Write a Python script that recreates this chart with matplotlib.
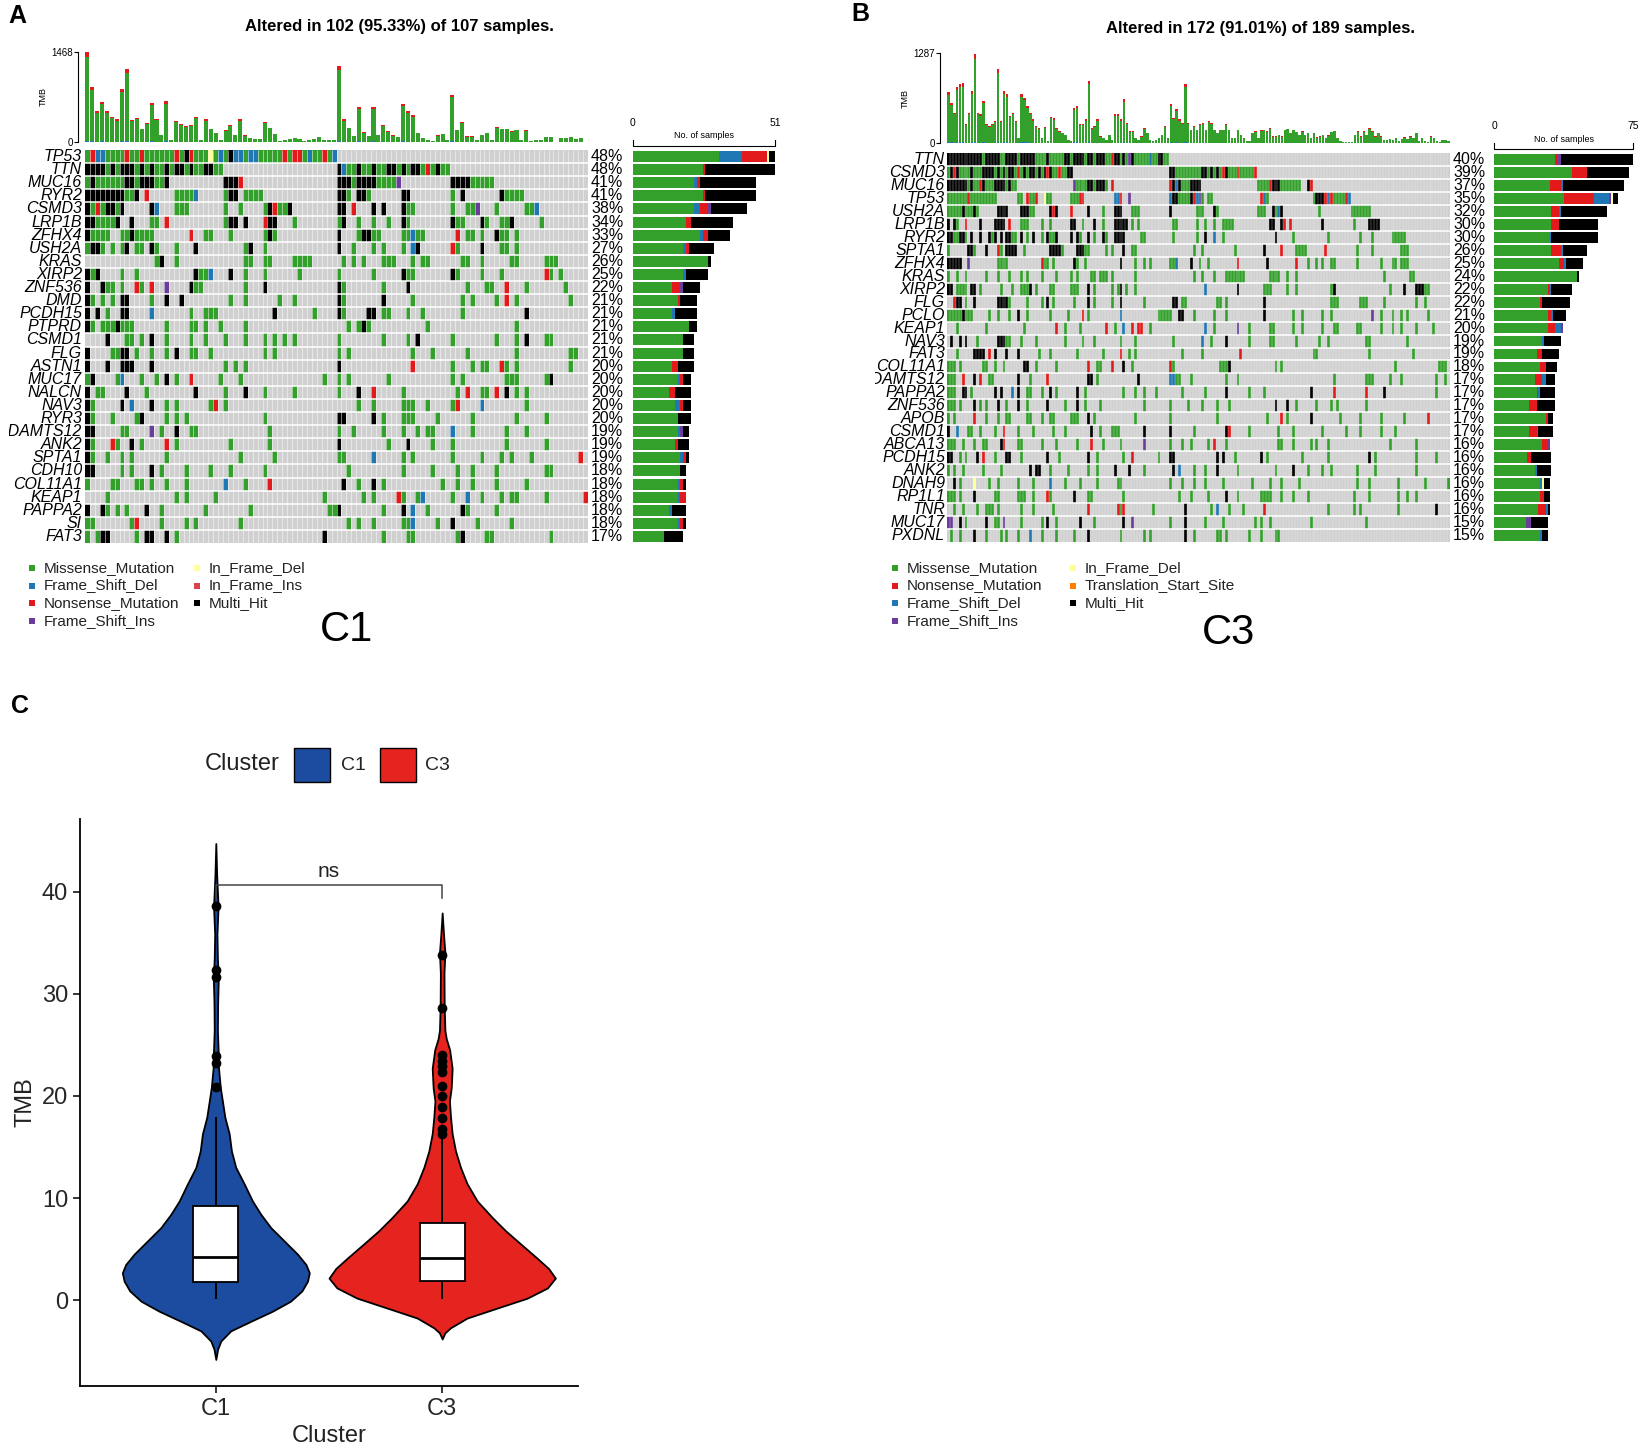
import re
import numpy as np
import matplotlib
matplotlib.use("Agg")
import matplotlib.pyplot as plt
from matplotlib.colors import ListedColormap
from matplotlib.patches import Rectangle
from matplotlib.lines import Line2D

plt.rcParams['font.family'] = ['Liberation Sans', 'DejaVu Sans']

W, H = 1646, 1449

# ---- variant classes (code letter -> name / colour)
var_codes = ['g', 'r', 'b', 'p', 'y', 'i', 'o', 'k']
var_names = ['Missense_Mutation', 'Nonsense_Mutation', 'Frame_Shift_Del', 'Frame_Shift_Ins',
             'In_Frame_Del', 'In_Frame_Ins', 'Translation_Start_Site', 'Multi_Hit']
var_colors = ['#33A02C', '#E31A1C', '#1F78B4', '#6A3D9A', '#FFFF99', '#D9434E', '#FF7F00', '#000000']
bg_grey = '#D0D0D0'

# ---- panel A (C1)
A_genes = ['TP53', 'TTN', 'MUC16', 'RYR2', 'CSMD3', 'LRP1B', 'ZFHX4', 'USH2A', 'KRAS', 'XIRP2',
           'ZNF536', 'DMD', 'PCDH15', 'PTPRD', 'CSMD1', 'FLG', 'ASTN1', 'MUC17', 'NALCN', 'NAV3',
           'RYR3', 'ADAMTS12', 'ANK2', 'SPTA1', 'CDH10', 'COL11A1', 'KEAP1', 'PAPPA2', 'SI', 'FAT3']
A_pct = [48, 48, 41, 41, 38, 34, 33, 27, 26, 25, 22, 21, 21, 21, 21, 21, 20, 20, 20, 20,
         20, 19, 19, 19, 18, 18, 18, 18, 18, 17]
A_nsamp = 102
A_muts = [
    "0-50g 1r 2-3b 8r 11r 18r 20k 21r 25y 27b 29k 30-31b 33-34b 40r 42-43r 45b 48r 50b",
    "0-27g 0-3k 5k 7-9k 11k 13k 16k 18-19k 21k 24-25k 51-73g 51k 52b 55k 58k 61-62k 64k 66-67k 69r 71k",
    "0-16g 1k 8-9k 11-13k 16k 28-30k 31r 51-62g 51-53k 55-58k 63p 74-77k 78-82g",
    "0k 1-5k 6-7k 8-9g 10k 12r 18-21g 22b 28g 29-30k 32-35g 51-52k 53g 55-56k 57g 64-65k 74g 76k 84k 85-88g",
    "0k 1g 2r 3g 4-5k 6g 7k 13k 14b 18-20g 28g 31g 36g 37k 38r 39-40g 41k 51-52k 54r 58k 60k 64k 65-66g 74g 77-78g 79p 83g 89-90g 91b",
    "0-1k 2-5g 6k 9k 13g 14g 16r 28g 29-30k 32k 36r 37-38k 42g 51g 52k 55g 58g 61g 64k 65g 74k 75-76g 80k 81g 84-85g 86k 92g",
    "0k 1-4g 7-8g 9k 10-13g 21r 24-25g 29g 36g 37k 38g 51k 55g 56-57k 58-59g 64-65g 66b 67-68g 75r 77-78g 80g 83k 84-85g 87g",
    "0g 1-2k 3g 5g 7g 8k 10-11g 13k 14g 18g 22k 32g 33k 36g 51k 54g 58g 60g 64g 66b 67k 74r 75g 80k 84-85g 87g",
    "14g 15k 18g 32-33g 36-37g 42-45g 52g 54g 56g 60-62g 66g 68-69g 76-77g 80g 86-87g 93-95g",
    "0k 1g 2k 7g 10g 22k 23-24g 25b 29k 32g 36g 43g 51g 58g 64k 65-66g 74k 75g 80g 84g 93r 94g 96g",
    "0k 3k 4-5g 7g 10r 11g 13r 16p 21k 22-23g 32g 36k 51k 52g 60g 65k 77g 81-82g 85r 89g 97g",
    "0k 1g 3g 5g 7-8k 13g 16k 19k 29g 32g 39g 42g 51k 52g 60k 66g 76g 78g 83g 85r 87g 98g",
    "0k 2k 4g 7-8k 13b 21g 24-26g 38k 46g 51k 52g 57-58k 60-61g 65g 68g 76g 89k",
    "0k 1g 3-5g 6k 7-9g 16g 21g 22g 24g 27g 32g 53g 55g 56k 57g 69g 87g",
    "4k 8-9g 11g 13k 16g 21g 24g 28g 32g 36g 38g 40g 42g 51g 60g 65g 67k 74g 83g 87g 89k 93-94g",
    "0k 5-6g 7-8k 10g 13g 16g 18k 21-22g 25g 36g 38g 51g 53g 66g 70g 77g 87g 98-99g",
    "0k 4k 7k 8-9k 13k 28g 30g 32g 51k 66r 74g 78g 80-81g 84r 85g 87g 98g",
    "0g 1k 6g 7b 11g 14g 16k 18g 21r 27g 31g 48g 51g 53g 61g 74g 76g 85-87g 93g 94k",
    "0k 2-3g 8k 12g 22k 28g 32k 36g 42g 51g 55k 58r 64g 75g 77r 80-81g 83r 85k 87g 89g",
    "0k 1g 7k 9b 13k 16g 18g 25g 26r 28g 55g 58g 64-66g 69g 74g 75r 80b 89g",
    "0k 1g 5g 10g 11k 16g 18g 20g 36g 51-52k 58k 60g 64-66g 71g 78g 87g 93g",
    "0-1k 7-8g 13p 15g 18k 21-22g 37g 51g 54g 60g 64g 67g 69-70g 74b 78g 85g 89g",
    "0k 1g 5r 6g 9k 11g 16r 18g 29g 37g 51k 61g 65k 70g 74g 85g 93g",
    "0k 1g 4g 7g 9g 16g 31g 38g 51-52g 58b 64g 66g 74g 80g 84g 86g 90g 100r",
    "0-1k 7g 9g 13k 15g 20g 25g 29g 36g 53g 64g 70g 75g 78g 83g 93-94g",
    "0g 5-6g 10-11g 13g 16g 20g 28b 32g 37r 52k 55g 58k 60g 72g 75g 78g 83g 89g",
    "4g 18g 20g 26g 48g 56g 58g 63r 64g 67g 68b 74g 77b 80g 84g 86-87g 93g 101r",
    "0k 3k 4g 6g 8g 12k 15g 24g 33g 49-50g 51k 60g 64k 66b 69g 76k 77g 83g",
    "0-1g 9g 10r 15g 20g 22g 31g 53g 55g 58g 64-65g 66b 71g 74k 79g 86g",
    "0g 2g 3-4k 10g 12-13k 16k 18g 48k 60g 65-66g 75g 76k 81-82g 94g",
]
A_tmb = [1468, 898, 506, 653, 506, 408, 370, 870, 1186, 354,
         397, 218, 310, 642, 381, 120, 664, 27, 337, 299,
         261, 283, 408, 27, 370, 218, 147, 27, 190, 272,
         120, 370, 109, 65, 44, 44, 326, 234, 136, 16,
         27, 44, 65, 44, 16, 27, 44, 82, 27, 27,
         27, 1235, 370, 234, 98, 571, 163, 98, 571, 120,
         272, 180, 109, 82, 626, 500, 435, 152, 71, 27,
         16, 109, 136, 27, 772, 201, 326, 92, 92, 27,
         120, 147, 27, 245, 218, 218, 180, 201, 27, 190,
         16, 27, 38, 82, 82, 0, 65, 65, 82, 44,
         65, 5]
A_tmb_top = 1468
# gene bar counts, stacked in this order
A_bar_codes = ['g', 'b', 'r', 'p', 'y', 'k']
A_bar_g = [31, 25, 22, 25, 22, 19, 24, 18, 27, 18, 14, 16, 14, 20, 18, 18, 14, 16, 13, 15,
           16, 16, 15, 17, 17, 16, 16, 13, 16, 11]
A_bar_b = [8, 0, 1, 0, 2, 0, 1, 1, 0, 1, 0, 0, 1, 0, 0, 0, 0, 1, 0, 2,
           0, 1, 0, 1, 0, 1, 1, 1, 1, 0]
A_bar_r = [9, 1, 1, 1, 3, 2, 2, 1, 0, 0, 3, 1, 0, 0, 0, 0, 2, 1, 2, 1,
           0, 0, 1, 1, 0, 1, 2, 0, 1, 0]
A_bar_p = [0, 0, 0, 0, 1, 0, 0, 0, 0, 0, 1, 0, 0, 0, 0, 0, 0, 0, 0, 0,
           0, 1, 0, 0, 0, 0, 0, 0, 0, 0]
A_bar_y = [1, 0, 0, 0, 0, 0, 0, 0, 0, 0, 0, 0, 0, 0, 0, 0, 0, 0, 0, 0,
           0, 0, 0, 0, 0, 0, 0, 0, 0, 0]
A_bar_k = [2, 25, 20, 18, 13, 15, 8, 9, 1, 8, 6, 6, 8, 3, 4, 4, 6, 3, 6, 3,
           5, 2, 4, 1, 2, 1, 0, 5, 1, 7]
A_bar_max = 51
A_legend_codes = [['g', 'b', 'r', 'p'], ['y', 'i', 'k']]

# ---- panel B (C3)
B_genes = ['TTN', 'CSMD3', 'MUC16', 'TP53', 'USH2A', 'LRP1B', 'RYR2', 'SPTA1', 'ZFHX4', 'KRAS',
           'XIRP2', 'FLG', 'PCLO', 'KEAP1', 'NAV3', 'FAT3', 'COL11A1', 'ADAMTS12', 'PAPPA2', 'ZNF536',
           'APOB', 'CSMD1', 'ABCA13', 'PCDH15', 'ANK2', 'DNAH9', 'RP1L1', 'TNR', 'MUC17', 'PXDNL']
B_pct = [40, 39, 37, 35, 32, 30, 30, 26, 25, 24, 22, 22, 21, 20, 19, 19, 18, 17, 17, 17,
         17, 17, 16, 16, 16, 16, 16, 16, 15, 15]
B_nsamp = 172
B_muts = [
    "0-75g 0-11k 13-17k 20-23k 25-29k 34k 40-41k 43-46k 48-49k 51-53k 56r 57-58k 60k 62p 63k 69b 72-73k",
    "0-42g 1k 2r 3k 8k 12-15k 17k 19k 21-22k 24r 26k 28-29k 31k 33k 34r 35k 38r 41-42k 76-105g 76-77k 87-88k 90k 92k 94r 95k 99r 105r",
    "0-23g 0-6k 8k 11r 12k 16-19k 21k 43p 44-47g 48-49k 50g 51-53k 54g 56r 76r 77k 78b 79k 80-82g 83-86k 106-120g 110r 111-113k 123k 124r",
    "0-16g 7r 24-25g 27r 28-29g 30r 33y 34-35g 42-44g 45-46r 57b 58b 59r 62p 76b 77-78k 79-82g 83k 84r 85b 86p 87g 89-90g 107r 108b 109g 125-137g 126-128k 129r 130b 131r 136r 137b",
    "0-4g 5k 6-8g 9k 10g 17-20k 25-27k 28-29g 35k 36r 37k 42r 48k 53g 57-59k 63-65g 76k 85-87g 91k 92g 106-108g 111k 112g 113b 114k 127g 138-144g",
    "0k 2k 3g 6r 11k 16-19k 21r 25-27g 32g 35g 42-43k 46g 50k 53g 57-61k 63g 65g 77-78g 85g 88g 91g 94-97g 110-111k 114k 115r 117r 128k 139g 144-147k",
    "0-1k 2-3g 4-5k 6g 8k 11k 14k 15g 16k 18k 20-21k 22-23g 25k 27g 29k 32g 34k 35-36g 37k 42k 44k 45g 48k 50g 53k 54g 57-60k 66-67g 77g 85g 88k 91b 94g 112k 118g 130g 141g 145g 152-156g",
    "0g 7-8k 9g 13k 17r 18g 20-23k 26g 35-38k 39g 44-46k 47-48g 54g 56g 60k 63-64g 84g 87g 98g 108k 114r 119-122g 129r 140g 145g 155-157g",
    "0-4k 7p 17-20g 32r 33-34g 36g 43k 44g 47g 59k 64g 67g 69g 76-77g 78b 83k 86g 89g 99r 109k 119r 123g 126g 128g 131-132g 140g 148g 152-153g 155-157g",
    "0g 3g 6g 13g 17g 21g 25g 27g 32g 37g 42g 44g 49-50g 52-54g 56g 64g 84g 87g 91g 95-101g 110-113g 116g 119g 149g 158-159g",
    "0-1k 3-6g 8-9k 11g 18g 22g 25-27g 28k 30g 35-36g 42-44g 48k 50g 56g 58g 59k 61g 64g 88b 99k 108-110g 116g 119g 131g 132k 151g 156k 160-162k 163-164g",
    "2r 3-4k 6g 9k 17-20k 21g 27g 32g 34k 36g 43g 48k 50g 56g 59k 67g 77-78k 80-81g 92-93g 95g 108k 131-133g 141-143g 149g 160g 163g",
    "0-4g 5k 6-8g 14g 17g 21g 24k 27g 35g 41g 46r 48g 59b 72-75g 76g 79-80k 84g 91g 95g 108k 118g 121g 128g 131g 145p 148g 152g 155g 157g 164g",
    "3g 13g 26g 37r 40g 45g 54r 57g 60b 63r 65-66r 69g 88b 91g 99p 103g 110-111g 118g 121g 128g 132-133g 140-141g 148g 152g 155g 160g 166g",
    "1k 4k 6k 10g 17-19k 20-21g 25g 30g 40g 46g 50g 59g 64g 77g 87b 90g 95k 103g 110-111g 119g 127g 130g 143-144g 157g",
    "3g 9-12k 14r 16k 20k 24k 31g 35g 44g 53g 59r 62g 64g 80g 87g 100r 125-126g 144g 159g",
    "0-2g 4g 12-13g 16g 19g 26-27k 30g 37g 48r 51-52g 56r 60k 63g 76r 77g 93-95g 96k 112g 114g 153g 168-170g",
    "0-2g 5r 9k 11r 14-15g 24k 28g 34r 48-49k 51g 65k 76-77b 78-79g 83g 95g 99g 132g 143-145g 151g 155g 167g 170g",
    "0-2g 5-6k 8g 16k 18k 22b 24k 27-28g 32g 35k 37g 44k 47g 60g 64g 67g 71g 80g 88g 95k 103g 108g 124k 132r 143r 149k 167g",
    "0-2g 4g 9k 11g 13g 17k 20g 24k 27g 34k 40g 44k 47g 52g 67g 76g 82g 87g 92g 96g 112k 116k 119g 126g 131g 133g 143g",
    "0g 2g 9r 13g 17g 20-21g 27-28g 32g 35-36g 42-44g 48k 50g 64g 76g 92g 109g 114r 116g 124k 134g 141g 148g 156g 164r",
    "0k 3b 7-8g 11g 16g 19r 24g 29g 36g 40g 49k 52g 56-58g 67k 76k 84g 95k 96r 103g 113g 118g 128g 136g 141g 148g 153g",
    "0-2g 5g 9g 12-13g 18k 19r 24-25g 32g 37g 44g 49r 53g 59g 67p 76g 80g 83g 89g 91r 95g 113-114g 118g 124g 126g 130g 151g 160g",
    "0-1k 4g 6g 10k 12r 16g 20-21k 25g 34k 38g 48k 51g 60g 63r 72g 76-77k 92k 94k 98g 107k 109g 121g 130g 144k 146g 160g 167g",
    "0g 2g 5g 12g 18g 28k 30-31k 35g 41g 48g 51g 57k 62k 67g 77k 79b 84g 88g 92k 99g 112g 118k 123g 128g 131g 140g 146g 160g",
    "2k 4g 9y 14g 17g 24g 29g 35b 40g 45g 51g 58-59g 76g 80g 84g 88g 94g 104g 110g 114g 120g 140g 144g 154g 163g 171g",
    "0-2g 4g 9k 16-17g 24-26g 29g 34r 35g 43k 48-49g 60g 79g 83g 89g 95k 99g 107-110g 114g 118g 123g 139g 144g 154g 157g 160g",
    "2g 5g 10g 13-15g 17g 25g 29g 36g 48r 58r 59g 60r 70g 81k 90g 92b 96g 101g 108r 130g 139g 141g 154g 167k",
    "0-1p 4k 6g 13k 16-17g 19p 25g 32g 34k 37g 45k 50g 60k 63p 76g 81k 88g 94g 105g 107g 110g 124g 143g",
    "1g 4g 9k 13g 18g 20g 24g 28b 32g 37g 43g 48k 59g 67g 69g 81k 84g 92-93g 95g 103g 107g 112-113g",
]
B_tmb = [723, 578, 434, 795, 843, 853, 265, 434, 747, 1277,
         434, 410, 602, 265, 241, 265, 313, 1060, 313, 747,
         699, 386, 434, 313, 72, 699, 650, 530, 434, 337,
         241, 217, 72, 227, 24, 371, 352, 217, 169, 145,
         120, 48, 24, 506, 530, 265, 265, 337, 892, 217,
         241, 337, 96, 72, 48, 120, 48, 410,
         410, 337, 626, 289, 169, 169, 72, 48, 96, 217,
         145, 48, 24, 48, 72, 120, 241, 72, 554, 362,
         482, 337, 289, 843, 289, 193, 241, 193, 265, 289,
         193, 313, 289, 193, 145, 193, 193, 265, 193, 72,
         72, 193, 120, 72, 24, 24, 145, 169, 72, 181,
         193, 169, 217, 96, 96, 120, 96,
         193, 207, 145, 193, 159, 120, 169, 120, 145, 72,
         145, 82, 96, 120, 72, 111, 159, 178, 72, 24,
         14, 14, 14, 14, 120, 169, 96, 169, 120, 217,
         169, 96, 145, 96, 48, 48, 63, 48, 72, 34,
         63, 82, 63, 96, 72, 145, 24, 72, 24, 14,
         96, 72, 24, 14, 39, 48, 24]
B_tmb_top = 1287
B_bar_codes = ['g', 'r', 'b', 'p', 'y', 'k']
B_bar_g = [33, 42, 30, 38, 31, 31, 30, 31, 35, 45, 29, 25, 29, 29, 26, 23, 25, 22, 23, 19,
           28, 19, 26, 18, 22, 25, 25, 24, 17, 25]
B_bar_r = [1, 8, 6, 16, 4, 4, 0, 5, 3, 0, 1, 1, 2, 4, 0, 3, 3, 4, 1, 4,
           1, 4, 3, 2, 0, 0, 2, 4, 0, 0]
B_bar_b = [0, 0, 1, 8, 1, 0, 1, 1, 1, 0, 1, 0, 1, 3, 1, 0, 0, 2, 1, 0,
           0, 1, 0, 0, 1, 1, 0, 1, 0, 1]
B_bar_p = [2, 0, 0, 1, 0, 0, 0, 0, 0, 0, 0, 0, 0, 1, 0, 0, 0, 0, 0, 0,
           0, 0, 1, 0, 0, 0, 0, 0, 3, 0]
B_bar_y = [0, 0, 0, 1, 0, 0, 0, 0, 0, 0, 0, 0, 0, 0, 0, 0, 0, 0, 0, 0,
           0, 0, 0, 0, 0, 1, 0, 0, 0, 0]
B_bar_k = [39, 23, 33, 3, 25, 21, 25, 13, 9, 1, 11, 15, 7, 0, 9, 9, 6, 5, 8, 10,
           3, 8, 0, 11, 8, 3, 3, 1, 9, 3]
B_bar_max = 75
B_legend_codes = [['g', 'r', 'b', 'p'], ['y', 'o', 'k']]

# ---- panel C (violin outlines: TMB level and half-width in category units)
clusters = ['C1', 'C3']
cluster_colors = ['#1C4C9F', '#E52420']
c1_y = [-5.8, -4.8, -4.0, -3.0, -2.06, -1.08, -0.1, 0.9, 1.86, 2.68, 3.5, 4.5, 5.8, 7.1,
        8.4, 9.7, 11.4, 13.0, 14.6, 16.3, 17.9, 19.5, 20.8, 22.7, 24.0, 26.4, 29.0, 31.5,
        33.5, 35.8, 38.5, 41.5, 44.7]
c1_hw = [0.0, 0.008, 0.022, 0.066, 0.155, 0.25, 0.33, 0.38, 0.405, 0.413, 0.398, 0.361, 0.302, 0.243,
         0.199, 0.162, 0.125, 0.088, 0.069, 0.059, 0.040, 0.029, 0.020, 0.012, 0.011, 0.007, 0.008, 0.011,
         0.007, 0.005, 0.010, 0.004, 0.0]
c3_y = [-3.8, -3.2, -2.7, -1.75, -0.77, 0.2, 1.2, 2.16, 3.1, 4.1, 5.5, 6.8, 8.1, 9.7,
        11.4, 13.0, 14.6, 16.3, 17.9, 19.5, 20.8, 22.7, 24.5, 25.6, 26.4, 28.7, 32.0, 34.0,
        35.8, 37.9]
c3_hw = [0.0, 0.012, 0.037, 0.11, 0.243, 0.376, 0.465, 0.50, 0.47, 0.42, 0.347, 0.28, 0.221, 0.155,
         0.11, 0.081, 0.059, 0.044, 0.037, 0.032, 0.040, 0.044, 0.033, 0.018, 0.012, 0.009, 0.008, 0.012,
         0.006, 0.0]
box_q1 = [1.8, 1.9]
box_med = [4.2, 4.15]
box_q3 = [9.2, 7.55]
whisk_lo = [0.15, 0.15]
whisk_hi = [17.9, 16.0]
c1_out = [20.9, 23.2, 23.9, 31.6, 32.3, 38.6]
c3_out = [16.3, 16.8, 17.8, 18.9, 20.0, 21.0, 22.3, 22.9, 23.4, 24.0, 28.6, 33.8]

col_of = dict(zip(var_codes, var_colors))
name_of = dict(zip(var_codes, var_names))


def rect(l, t, r, b):
    return [l / W, 1 - b / H, (r - l) / W, (b - t) / H]


def fx(x):
    return x / W


def fy(y):
    return 1 - y / H


def parse_row(spec, n):
    row = np.zeros(n, dtype=int)
    for tok in spec.split():
        m = re.fullmatch(r'(\d+)(?:-(\d+))?([a-z])', tok)
        a = int(m.group(1))
        b = int(m.group(2) or a)
        row[a:b + 1] = var_codes.index(m.group(3)) + 1
    return row


fig = plt.figure(figsize=(W / 100, H / 100), dpi=100)


def oncoplot(genes, pcts, muts, nsamp, tmb, tmb_top, bar_codes, bar_counts, bar_max,
             x0, x1, tmb_t, tmb_b, m_t, m_b, bx0, bx1, lab_l, lab_r, title_x, title,
             legend_codes, leg_x, big_lab, big_xy, vsep):
    ng = len(genes)
    # TMB bars
    ax = fig.add_axes(rect(x0, tmb_t, x1, tmb_b))
    v = np.array(tmb, float)
    xs = np.arange(nsamp) + 0.5
    ax.bar(xs, v * 0.015, width=0.82, color=col_of['b'])
    ax.bar(xs, v * 0.93, bottom=v * 0.015, width=0.82, color=col_of['g'])
    ax.bar(xs, v * 0.055, bottom=v * 0.945, width=0.82, color=col_of['r'])
    ax.set_xlim(0, nsamp)
    ax.set_ylim(0, tmb_top)
    for s in ['top', 'right', 'bottom']:
        ax.spines[s].set_visible(False)
    ax.spines['left'].set_position(('outward', 5))
    ax.spines['left'].set_linewidth(0.8)
    ax.set_xticks([])
    ax.set_yticks([0, tmb_top])
    ax.set_yticklabels(['0', str(tmb_top)], fontsize=7)
    ax.tick_params(axis='y', length=3, width=0.8, pad=1)
    ax.set_ylabel('TMB', fontsize=6.5, labelpad=2)

    # oncoprint matrix
    mat = np.array([parse_row(s, nsamp) for s in muts])
    cmap = ListedColormap([bg_grey] + var_colors)
    axm = fig.add_axes(rect(x0, m_t, x1, m_b))
    axm.pcolormesh(np.arange(nsamp + 1), np.arange(ng + 1), mat, cmap=cmap,
                   vmin=-0.5, vmax=len(var_colors) + 0.5)
    axm.vlines(np.arange(1, nsamp), 0, ng, color='white', lw=vsep, alpha=0.7)
    axm.hlines(np.arange(1, ng), 0, nsamp, color='white', lw=1.1)
    axm.set_xlim(0, nsamp)
    axm.set_ylim(ng, 0)
    axm.axis('off')

    # gene names (clipped on the left like the reference)
    rowh = (m_b - m_t) / ng
    pad = 8
    axl = fig.add_axes(rect(lab_l, m_t - pad, lab_r, m_b + pad))
    axl.set_xlim(0, 1)
    axl.set_ylim(ng + pad / rowh, -pad / rowh)
    axl.axis('off')
    for i, gname in enumerate(genes):
        axl.text(1, i + 0.5, gname, ha='right', va='center', fontsize=11.5,
                 style='italic', clip_on=True)
        fig.text(fx(x1 + 3), fy(m_t + (i + 0.5) * rowh), '%d%%' % pcts[i],
                 ha='left', va='center', fontsize=11.5)

    # gene bar plot
    axb = fig.add_axes(rect(bx0, m_t, bx1, m_b))
    left = np.zeros(ng)
    for c, cnt in zip(bar_codes, bar_counts):
        cnt = np.array(cnt, float)
        axb.barh(np.arange(ng) + 0.5, cnt, left=left, height=0.84, color=col_of[c])
        left += cnt
    axb.set_xlim(0, bar_max)
    axb.set_ylim(ng, 0)
    axb.axis('off')
    fig.text(fx(bx0), fy(m_t - 27), '0', ha='center', va='center', fontsize=7.5)
    fig.text(fx(bx1), fy(m_t - 27), str(bar_max), ha='center', va='center', fontsize=7.5)
    fig.text(fx((bx0 + bx1) / 2), fy(m_t - 14), 'No. of samples', ha='center', va='center', fontsize=6.5)
    fig.add_artist(Line2D([fx(bx0), fx(bx0), fx(bx1), fx(bx1)],
                          [fy(m_t - 10), fy(m_t - 4), fy(m_t - 4), fy(m_t - 10)],
                          color='black', lw=0.8))

    # title
    fig.text(fx(title_x), fy(tmb_t - 25), title, ha='center', va='center',
             fontsize=12, fontweight='bold')

    # legend
    rows_y = [568, 585.5, 603, 621]
    for ci, codes in enumerate(legend_codes):
        for ri, c in enumerate(codes):
            mx = leg_x[ci]
            fig.add_artist(Rectangle((fx(mx - 3), fy(rows_y[ri] + 3)), 6 / W, 6 / H,
                                     color=col_of[c], lw=0))
            fig.text(fx(mx + 12), fy(rows_y[ri]), name_of[c], ha='left', va='center',
                     fontsize=11, color='#222222')
    fig.text(fx(big_xy[0]), fy(big_xy[1]), big_lab, ha='center', va='center', fontsize=30)


oncoplot(A_genes, A_pct, A_muts, A_nsamp, A_tmb, A_tmb_top, A_bar_codes,
         [A_bar_g, A_bar_b, A_bar_r, A_bar_p, A_bar_y, A_bar_k], A_bar_max,
         85, 588, 52, 142, 150, 543, 633, 775, 9, 82, 399,
         'Altered in 102 (95.33%) of 107 samples.', A_legend_codes, [32, 197],
         'C1', (346, 630), 0.5)
oncoplot(B_genes, B_pct, B_muts, B_nsamp, B_tmb, B_tmb_top, B_bar_codes,
         [B_bar_g, B_bar_r, B_bar_b, B_bar_p, B_bar_y, B_bar_k], B_bar_max,
         947, 1450, 53, 143, 153, 542, 1494, 1633, 875, 945, 1260,
         'Altered in 172 (91.01%) of 189 samples.', B_legend_codes, [895, 1073],
         'C3', (1228, 633), 0.3)

for lab, (x, y) in zip(['A', 'B', 'C'], [(8, 16), (851, 14), (11, 706)]):
    fig.text(fx(x), fy(y), lab, ha='left', va='center', fontsize=18, fontweight='bold')

# ---- panel C
axC = fig.add_axes(rect(80, 819, 578, 1386))
profiles = [(c1_y, c1_hw, c1_out), (c3_y, c3_hw, c3_out)]
for k, (ys, hws, outs) in enumerate(profiles):
    xc = k + 1
    ys = np.array(ys)
    hw = np.array(hws)
    axC.fill_betweenx(ys, xc - hw, xc + hw, facecolor=cluster_colors[k],
                      edgecolor='black', lw=1.3, zorder=2)
    axC.vlines(xc, whisk_lo[k], box_q1[k], color='black', lw=1.4, zorder=3)
    axC.vlines(xc, box_q3[k], whisk_hi[k], color='black', lw=1.4, zorder=3)
    axC.add_patch(Rectangle((xc - 0.1, box_q1[k]), 0.2, box_q3[k] - box_q1[k],
                            facecolor='white', edgecolor='black', lw=1.3, zorder=4))
    axC.hlines(box_med[k], xc - 0.1, xc + 0.1, color='black', lw=2.0, zorder=5)
    axC.plot([xc] * len(outs), outs, 'o', color='black', ms=6, zorder=5)

axC.plot([1, 1, 2, 2], [39.4, 40.6, 40.6, 39.4], color='#444444', lw=1.1, zorder=6)
axC.text(1.5, 41.0, 'ns', ha='center', va='bottom', fontsize=15, color='#222222')
axC.set_xlim(0.4, 2.6)
axC.set_ylim(-8.4, 47.1)
axC.set_xticks([1, 2])
axC.set_xticklabels(clusters)
axC.set_yticks([0, 10, 20, 30, 40])
axC.tick_params(labelsize=17, length=5, width=1.1, colors='black', labelcolor='#262626')
for s in ['top', 'right']:
    axC.spines[s].set_visible(False)
for s in ['left', 'bottom']:
    axC.spines[s].set_linewidth(1.3)
axC.set_xlabel('Cluster', fontsize=17, color='#222222')
axC.set_ylabel('TMB', fontsize=17, color='#222222')

# legend of panel C
fig.text(fx(205), fy(764), 'Cluster', ha='left', va='center', fontsize=17, color='#222222')
for k, (bx, tx) in enumerate([(294, 341), (380, 425)]):
    fig.add_artist(Rectangle((fx(bx), fy(782)), 36 / W, 34 / H, facecolor=cluster_colors[k],
                             edgecolor='black', lw=1.0))
    fig.text(fx(tx), fy(765), clusters[k], ha='left', va='center', fontsize=14, color='#222222')

fig.savefig('out.png', dpi=100)
